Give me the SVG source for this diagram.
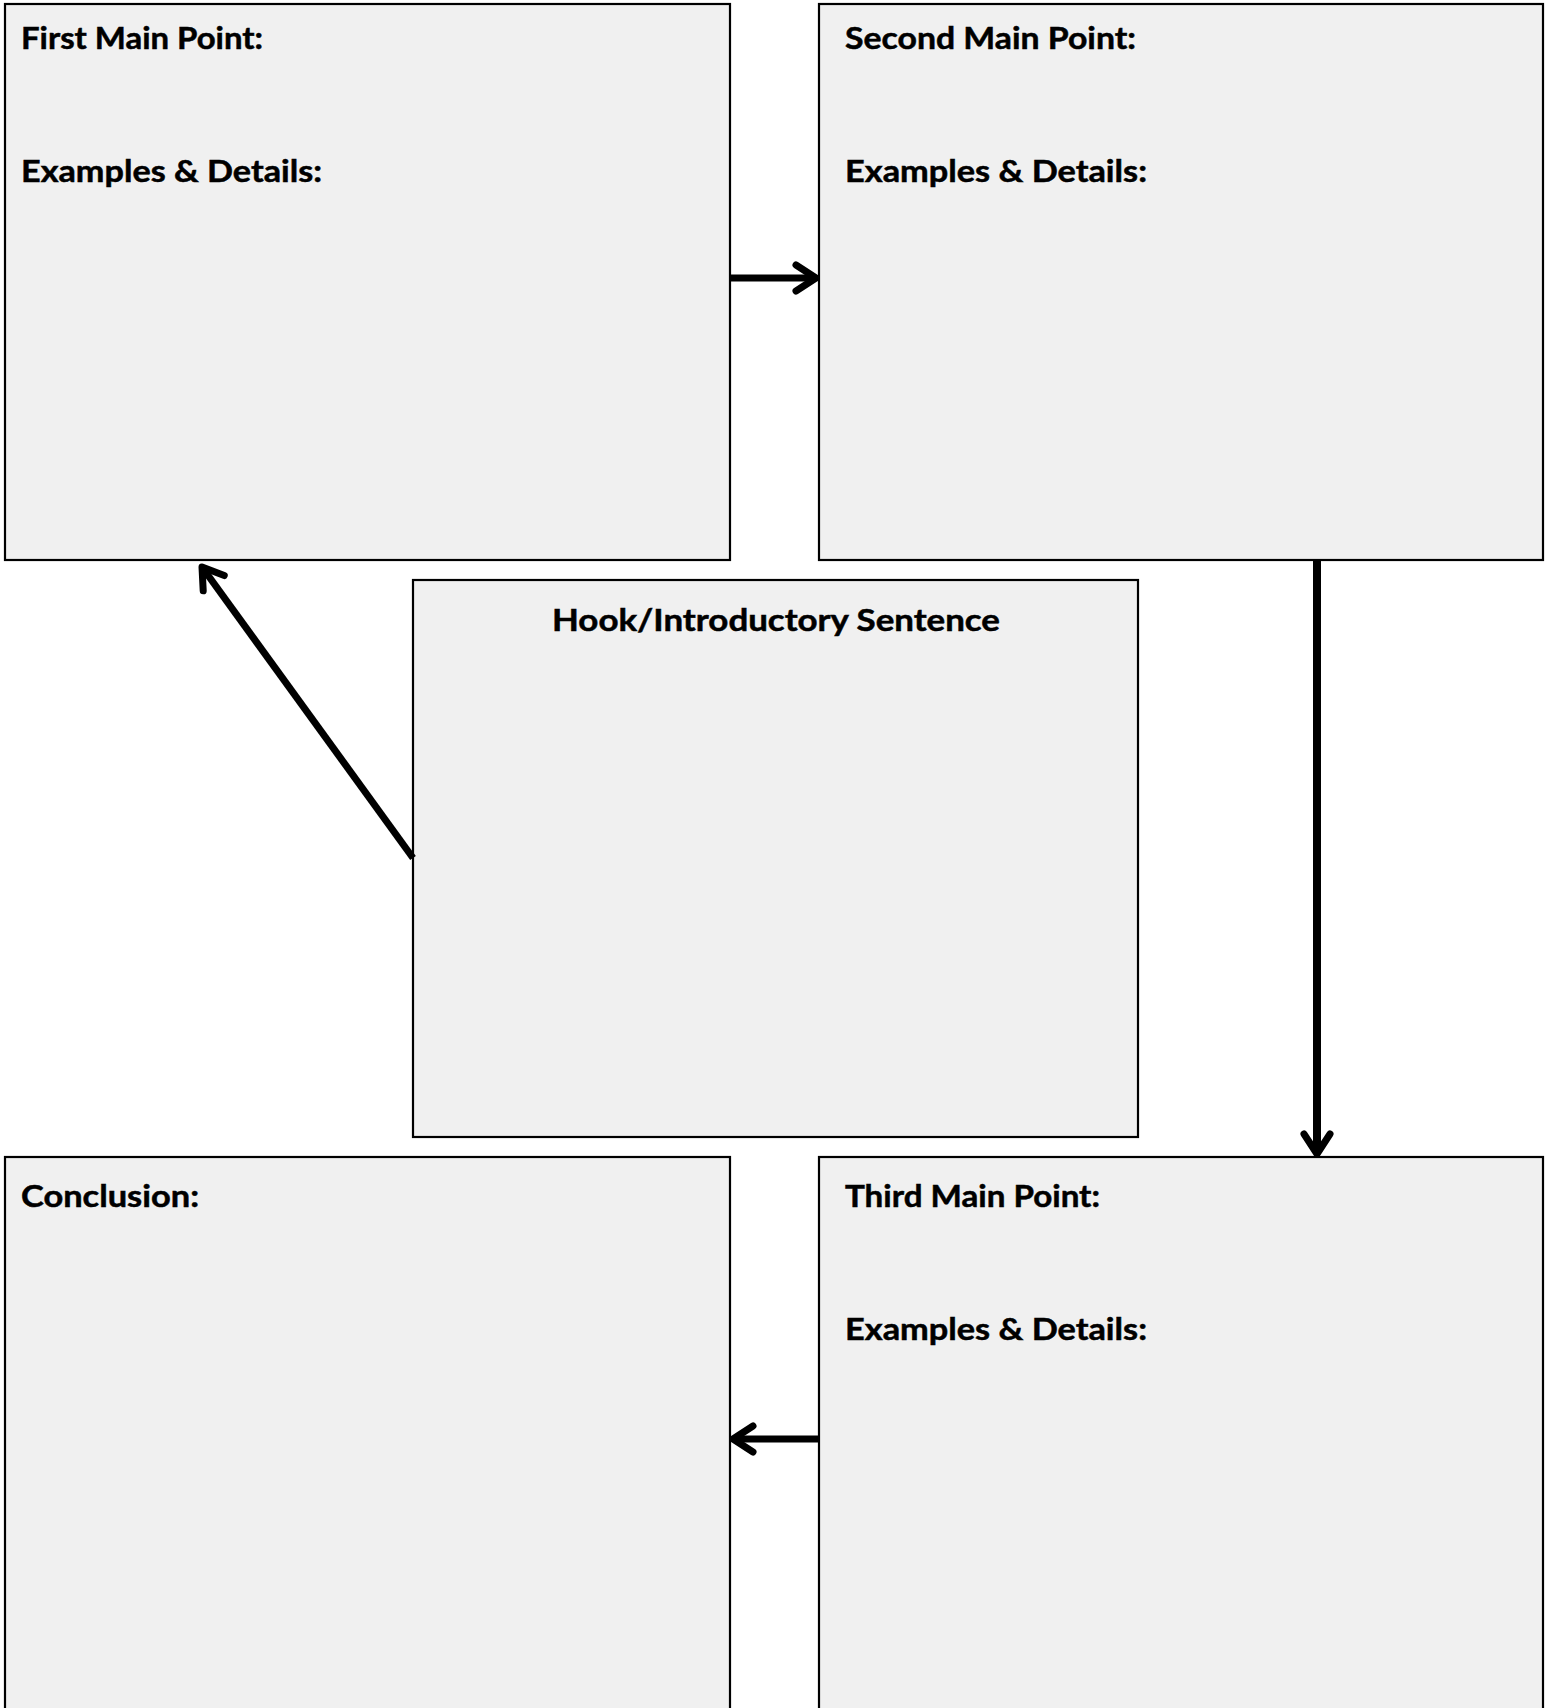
<svg xmlns="http://www.w3.org/2000/svg" width="1551" height="1708" viewBox="0 0 1551 1708">
<defs>
<style>
.box{fill:#f0f0f0;stroke:#000;stroke-width:2.2}
.lbl{font-family:Lato,"Liberation Sans",sans-serif;font-weight:bold;font-size:30px;fill:#000;stroke:#000;stroke-width:0.5}
.conn{fill:none;stroke:#000;stroke-width:7}
</style>
<marker id="arr" markerUnits="userSpaceOnUse" markerWidth="40" markerHeight="40" viewBox="-30 -20 40 40" refX="0" refY="0" orient="auto" overflow="visible">
<path d="M-20,-13 L0,0 L-20,13" fill="none" stroke="#000" stroke-width="7" stroke-linecap="round" stroke-linejoin="round"/>
</marker>
</defs>
<rect width="1551" height="1708" fill="#fff"/>
<g id="first">
<rect class="box" x="5" y="4" width="725" height="556"/>
<text class="lbl" x="21" y="49" textLength="242" lengthAdjust="spacingAndGlyphs">First Main Point:</text>
<text class="lbl" x="21" y="182" textLength="301" lengthAdjust="spacingAndGlyphs">Examples &amp; Details:</text>
</g>
<g id="second">
<rect class="box" x="819" y="4" width="724" height="556"/>
<text class="lbl" x="845" y="49" textLength="291" lengthAdjust="spacingAndGlyphs">Second Main Point:</text>
<text class="lbl" x="845" y="182" textLength="302" lengthAdjust="spacingAndGlyphs">Examples &amp; Details:</text>
</g>
<g id="hook">
<rect class="box" x="413" y="580" width="725" height="557"/>
<text class="lbl" x="552" y="631" textLength="448" lengthAdjust="spacingAndGlyphs">Hook/Introductory Sentence</text>
</g>
<g id="conclusion">
<rect class="box" x="5" y="1157" width="725" height="570"/>
<text class="lbl" x="21" y="1207" textLength="178" lengthAdjust="spacingAndGlyphs">Conclusion:</text>
</g>
<g id="third">
<rect class="box" x="819" y="1157" width="724" height="570"/>
<text class="lbl" x="845" y="1207" textLength="255" lengthAdjust="spacingAndGlyphs">Third Main Point:</text>
<text class="lbl" x="845" y="1340" textLength="302" lengthAdjust="spacingAndGlyphs">Examples &amp; Details:</text>
</g>
<g id="connectors">
<line class="conn" x1="731" y1="278" x2="816" y2="278" marker-end="url(#arr)"/>
<line class="conn" x1="1317" y1="561" x2="1317" y2="1154" stroke-width="8" marker-end="url(#arr)" style="stroke-width:8"/>
<line class="conn" x1="818" y1="1439" x2="733" y2="1439" marker-end="url(#arr)"/>
<line class="conn" x1="413" y1="858" x2="202" y2="567" marker-end="url(#arr)"/>
</g>
</svg>
